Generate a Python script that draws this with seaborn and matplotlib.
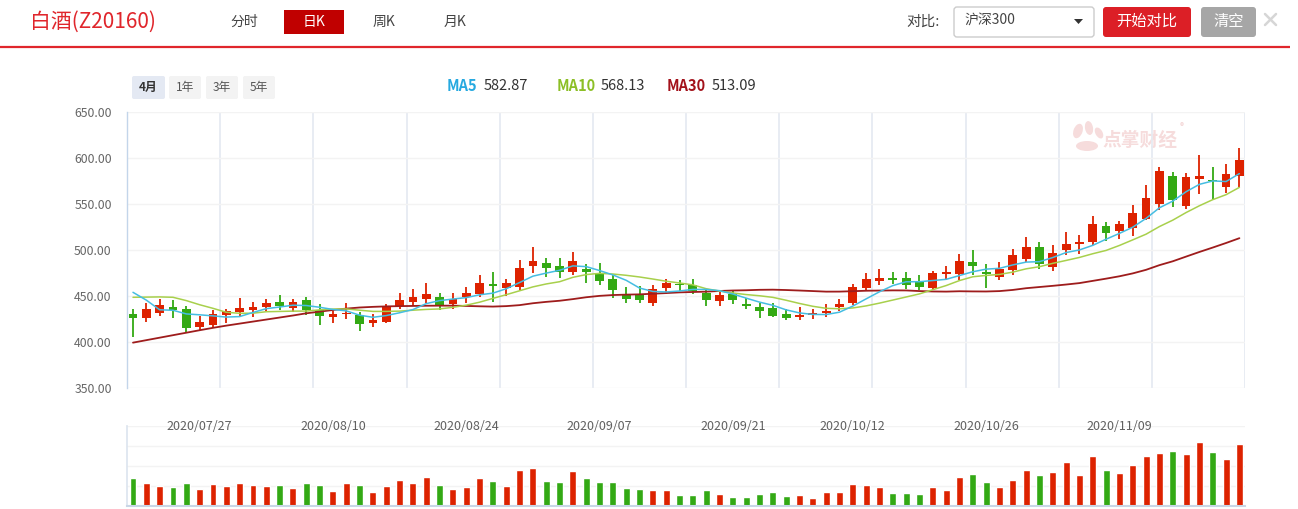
import numpy as np
import pandas as pd
import matplotlib
matplotlib.use("Agg")
import matplotlib.pyplot as plt
import matplotlib.patches as mpatches
import matplotlib.transforms as mtrans
import seaborn as sns

# ---------------- data ----------------
opens = [430.4, 425.7, 431.9, 438.0, 435.9, 416.7, 418.8, 429.7, 433.0, 435.2,
         438.0, 443.5, 437.3, 445.7, 435.2, 427.6, 430.4, 429.7, 421.0, 421.7,
         438.8, 443.8, 447.1, 448.9, 441.3, 448.9, 452.2, 463.0, 458.7, 460.1,
         483.0, 485.9, 482.6, 476.4, 479.4, 475.0, 468.5, 451.5, 451.8, 442.8,
         459.1, 463.0, 462.0, 453.6, 444.9, 452.5, 441.3, 438.4, 437.3, 430.8,
         427.5, 429.7, 431.2, 437.7, 442.0, 458.7, 466.7, 469.6, 469.6, 465.2,
         459.1, 473.9, 474.3, 487.0, 476.1, 471.0, 478.6, 490.6, 503.3, 481.9,
         500.4, 506.5, 509.1, 526.1, 520.7, 524.3, 533.7, 550.4, 580.4, 548.2,
         577.5, 575.7, 568.8, 580.8]
highs = [435.9, 442.8, 446.7, 445.7, 439.1, 428.3, 434.8, 435.9, 447.8, 443.8,
         446.7, 451.1, 446.7, 448.9, 441.3, 435.5, 442.4, 433.0, 430.1, 441.3,
         453.3, 457.6, 464.1, 453.3, 453.3, 459.8, 472.8, 476.1, 468.5, 489.1,
         503.3, 491.3, 491.3, 497.8, 484.8, 485.9, 472.8, 459.8, 461.2, 462.0,
         468.5, 467.4, 468.5, 456.9, 454.4, 456.9, 448.2, 442.8, 442.8, 436.2,
         438.4, 435.5, 441.3, 446.7, 463.0, 475.0, 479.4, 476.1, 476.1, 472.8,
         477.2, 482.6, 495.6, 500.0, 484.8, 486.9, 501.1, 514.1, 508.7, 505.4,
         519.6, 516.3, 537.0, 530.4, 531.5, 548.9, 570.7, 590.2, 584.8, 583.7,
         603.3, 590.2, 593.5, 610.9]
lows = [405.8, 422.1, 428.6, 426.5, 410.5, 413.0, 415.6, 421.0, 428.3, 427.5,
        434.1, 434.8, 433.0, 429.7, 418.8, 421.0, 425.4, 412.3, 416.7, 421.0,
        435.9, 439.5, 442.0, 435.1, 435.9, 442.4, 448.9, 443.5, 450.4, 456.5,
        475.0, 471.0, 469.9, 473.2, 464.5, 462.3, 448.2, 442.8, 442.8, 439.5,
        452.5, 455.8, 452.5, 439.5, 439.5, 441.7, 436.2, 426.5, 427.5, 424.3,
        423.9, 425.0, 427.5, 434.1, 440.6, 455.4, 462.0, 463.0, 457.6, 456.5,
        456.5, 467.4, 467.8, 472.8, 458.7, 467.8, 473.2, 487.3, 479.7, 477.5,
        494.6, 495.7, 505.4, 509.8, 512.0, 515.2, 532.6, 543.5, 547.1, 545.0,
        561.2, 554.7, 562.3, 568.1]
closes = [426.5, 435.9, 440.2, 434.4, 415.6, 421.7, 430.1, 433.7, 437.0, 438.0,
          442.4, 439.1, 443.5, 435.2, 428.6, 430.4, 431.5, 419.9, 423.9, 438.0,
          445.6, 448.9, 452.2, 440.2, 446.7, 453.3, 464.1, 461.2, 464.1, 480.4,
          488.0, 480.8, 476.4, 488.0, 476.5, 466.7, 456.9, 447.1, 446.0, 458.0,
          464.1, 462.0, 455.8, 446.0, 451.1, 446.0, 439.5, 434.1, 428.6, 426.5,
          429.3, 431.2, 433.7, 441.3, 459.8, 468.5, 469.6, 467.4, 462.0, 460.1,
          475.0, 476.1, 488.0, 482.6, 474.3, 479.4, 494.6, 503.3, 485.1, 496.7,
          506.5, 508.7, 528.3, 518.5, 528.3, 540.2, 556.5, 585.9, 554.7, 579.4,
          580.4, 575.0, 582.6, 597.8]
volumes = [84, 69, 60, 57, 69, 51, 66, 60, 69, 63,
           60, 63, 54, 69, 63, 45, 69, 63, 42, 60,
           78, 69, 87, 63, 51, 57, 84, 75, 60, 105,
           111, 75, 72, 102, 84, 72, 72, 54, 51, 48,
           48, 33, 33, 48, 36, 27, 27, 36, 42, 30,
           33, 24, 42, 42, 66, 63, 57, 39, 39, 36,
           57, 48, 87, 93, 72, 57, 78, 105, 90, 99,
           129, 90, 147, 105, 96, 120, 147, 156, 162, 153,
           189, 159, 138, 183]
# moving-average values at the left edge (history before the window)
ma5_head = [454.0, 445.5, 435.0, 434.5]
ma10_head = [448.6, 448.8, 449.0, 448.6, 445.0, 440.5, 436.6, 432.3, 431.2]
ma30_head = [399.3, 402.0, 404.7, 407.4, 410.1, 412.8, 415.4, 417.8, 420.0, 422.2,
             424.4, 426.6, 428.8, 431.2, 433.0, 434.8, 436.3, 437.5, 438.2, 438.7,
             439.0, 439.2, 439.4, 439.5, 439.5, 439.2, 438.8, 438.5, 439.0]
ma_names = ["MA5", "MA10", "MA30"]
ma_latest = [582.87, 568.13, 513.09]
label_dates = ["2020/07/27", "2020/08/10", "2020/08/24", "2020/09/07",
               "2020/09/21", "2020/10/12", "2020/10/26", "2020/11/09"]
y_ticks = [350, 400, 450, 500, 550, 600, 650]
period_tabs = ["分时", "日K", "周K", "月K"]
range_tabs = ["4月", "1年", "3年", "5年"]

# ---------------- styling ----------------
sns.set_theme(style="white")
plt.rcParams["font.family"] = ["Noto Sans CJK SC", "DejaVu Sans"]

RED = "#dd2200"
GREEN = "#33a914"
MA_COLORS = ["#45bde2", "#a8d04c", "#9e1c1c"]
MA_LABEL_COLORS = ["#26a9e0", "#8cbf26", "#a3121b"]
HEAD_RED = "#e0262c"

W, H = 1298, 509
fig = plt.figure(figsize=(W / 100, H / 100), dpi=100)

# pixel-coordinate overlay for the page decorations
bg = fig.add_axes([0, 0, 1, 1], zorder=0)
bg.set_xlim(0, W)
bg.set_ylim(H, 0)
bg.axis("off")

def box(x0, y0, x1, y1, fc, ec="none", r=3, lw=1):
    p = mpatches.FancyBboxPatch((x0, y0), x1 - x0, y1 - y0,
                                boxstyle=f"round,pad=0,rounding_size={r}",
                                fc=fc, ec=ec, lw=lw)
    bg.add_patch(p)

# title row
bg.text(30, 22, "白酒(Z20160)", color=HEAD_RED, fontsize=15, va="center", ha="left")
tab_x = [244, 314, 384, 455]
box(284, 10, 344, 34, "#c00000", r=0)
for t, x in zip(period_tabs, tab_x):
    bg.text(x, 22, t, fontsize=10, va="center", ha="center",
            color="white" if t == "日K" else "#444444")
bg.plot([0, 1290], [47, 47], color=HEAD_RED, lw=1.6, solid_capstyle="butt")

bg.text(923, 22, "对比:", fontsize=10.5, va="center", ha="center", color="#444444")
box(954, 7, 1094, 37, "white", ec="#cccccc", r=3)
bg.text(964, 21, "沪深300", fontsize=10, va="center", ha="left", color="#444444")
bg.add_patch(mpatches.Polygon([[1074, 19], [1083, 19], [1078.5, 24]], closed=True,
                              fc="#333333", ec="none"))
box(1103, 7, 1191, 37, "#dc1f26", r=3)
bg.text(1147, 21, "开始对比", fontsize=11, va="center", ha="center", color="white")
box(1201, 7, 1256, 37, "#a6a6a6", r=3)
bg.text(1228.5, 21, "清空", fontsize=11, va="center", ha="center", color="white")
bg.plot([1265, 1276], [14, 25], color="#d6d6d6", lw=1.8)
bg.plot([1265, 1276], [25, 14], color="#d6d6d6", lw=1.8)

# range tabs
range_x = [(132, 165), (169, 201), (206, 238), (243, 275)]
for t, (x0, x1) in zip(range_tabs, range_x):
    sel = t == "4月"
    box(x0, 76, x1, 99, "#e4e9f3" if sel else "#f3f3f3", r=2)
    bg.text((x0 + x1) / 2, 87.5, t, fontsize=8.5, va="center", ha="center",
            color="#333333" if sel else "#555555", fontweight="bold" if sel else "normal")

# MA legend
lab_x = [(447, 484), (557, 601), (667, 712)]
for name, val, col, (xl, xv) in zip(ma_names, ma_latest, MA_LABEL_COLORS, lab_x):
    bg.text(xl, 86, name, fontsize=10.5, fontweight="bold", color=col, va="center", ha="left")
    bg.text(xv, 86, f"{val:.2f}", fontsize=10.5, color="#333333", va="center", ha="left")

# watermark
for (cx, cy, w, h, a) in [(1078, 131, 9, 15, 20), (1089, 128, 8, 14, -10),
                          (1099, 133, 7, 12, -30), (1087, 146, 22, 10, 0)]:
    bg.add_patch(mpatches.Ellipse((cx, cy), w, h, angle=a, fc="#f6dcdc", ec="none"))
bg.text(1140, 140, "点掌财经", fontsize=13.5, fontweight="bold", color="#f6dcdc",
        va="center", ha="center")
bg.text(1182, 127, "®", fontsize=6, color="#f2d0d0", va="center", ha="center")

# ---------------- data frame ----------------
n = len(closes)
idx = np.arange(n)
all_days = pd.bdate_range("2020-07-20", "2020-11-20")
holiday = pd.date_range("2020-10-01", "2020-10-08")
dates = all_days[~all_days.isin(holiday)][:n]
date_strs = list(dates.strftime("%Y/%m/%d"))

df = pd.DataFrame({"i": idx, "open": opens, "high": highs, "low": lows,
                   "close": closes, "vol": volumes})
df["dir"] = np.where(df["close"] >= df["open"], "up", "down")
cs = df["close"]
ma5 = cs.rolling(5).mean().to_numpy()
ma5[:len(ma5_head)] = ma5_head
ma10 = cs.rolling(10).mean().to_numpy()
ma10[:len(ma10_head)] = ma10_head
ma30 = cs.rolling(30).mean().to_numpy()
ma30[:len(ma30_head)] = ma30_head

XL = (-0.45, 83.42)

# ---------------- price panel ----------------
ax = fig.add_axes([127 / W, 1 - 388 / H, (1245 - 127) / W, (388 - 112) / H], zorder=1)
ax.patch.set_alpha(0)
ax.set_xlim(*XL)
ax.set_ylim(350, 650)
ax.set_yticks(y_ticks)
ax.set_yticklabels([f"{v:.2f}" for v in y_ticks])
ax.tick_params(axis="y", length=0, pad=11, labelsize=8.8, labelcolor="#666666")
ax.set_xticks([])
for k in range(1, 13):
    xv = XL[0] + k * (XL[1] - XL[0]) / 12
    ax.axvline(xv, color="#e6ebf2", lw=1.3, zorder=0)
for v in y_ticks:
    ax.axhline(v, color="#f3f3f3", lw=1, zorder=0)
for s in ["top", "right", "bottom"]:
    ax.spines[s].set_visible(False)
ax.spines["left"].set_color("#c3d5ea")
ax.spines["left"].set_linewidth(1)

colors = np.where(df["dir"] == "up", RED, GREEN)
ax.vlines(idx, df["low"], df["high"], colors=colors, lw=1.3, zorder=2)
body_lo = np.minimum(df["open"], df["close"])
body_h = np.maximum((df["close"] - df["open"]).abs(), 0.9)
ax.bar(idx, body_h, bottom=body_lo, width=0.66, color=colors, lw=0, zorder=3)

for series, col, lw in zip([ma30, ma10, ma5], MA_COLORS[::-1], [1.3, 1.1, 1.1]):
    sns.lineplot(x=idx, y=series, ax=ax, color=col, lw=lw, legend=False, zorder=4)
ax.set_xlim(*XL)
ax.set_ylim(350, 650)
ax.set_xlabel("")
ax.set_ylabel("")

# ---------------- volume panel ----------------
axv = fig.add_axes([127 / W, 1 - 506 / H, (1245 - 127) / W, (506 - 426) / H], zorder=1)
axv.patch.set_alpha(0)
sns.barplot(data=df, x="i", y="vol", hue="dir", palette={"up": RED, "down": GREEN},
            dodge=False, native_scale=True, width=0.52, saturation=1,
            errorbar=None, legend=False, ax=axv)
axv.set_xlim(*XL)
axv.set_ylim(0, 236)
axv.set_xticks([])
axv.set_yticks([])
axv.set_xlabel("")
axv.set_ylabel("")
for v in [59, 118, 177, 236]:
    axv.axhline(v, color="#f3f3f3", lw=1, zorder=0)
for s in ["top", "right"]:
    axv.spines[s].set_visible(False)
axv.spines["left"].set_color("#dde5ef")
axv.spines["bottom"].set_color("#c9d6e6")
axv.spines["bottom"].set_linewidth(1.5)
trans = mtrans.blended_transform_factory(axv.transData, axv.transAxes)
for lbl in label_dates:
    axv.text(date_strs.index(lbl), 1.0, lbl, transform=trans, ha="center", va="center",
             fontsize=9, color="#606060")

fig.savefig("out.png", dpi=100, facecolor="white")
